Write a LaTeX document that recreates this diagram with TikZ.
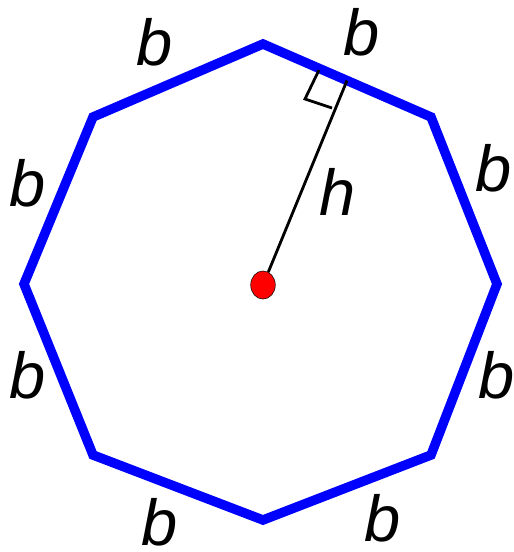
\documentclass[tikz,border=0pt]{standalone}
\usepackage{fontspec}
\setmainfont{Liberation Sans}
\usetikzlibrary{calc,shapes.geometric}
\definecolor{octblue}{HTML}{0000FF}
\definecolor{dotred}{HTML}{FF0000}

\begin{document}
\begin{tikzpicture}[x=0.02cm, y=-0.02cm,
  side/.style={draw=octblue, line width=5.4pt, line join=miter},
  lbl/.style={font=\fontsize{37}{44}\selectfont\itshape, inner sep=0pt},
  dot/.style={ellipse, draw=black, line width=0.3pt, fill=dotred,
              minimum width=14pt, minimum height=16pt, inner sep=0pt},
  thin/.style={draw=black, line width=1.6pt}
]
\useasboundingbox (0,0) rectangle (514,552);

% corners of the octagon
\coordinate (v1) at (263,44);
\coordinate (v2) at (431,117);
\coordinate (v3) at (497,284);
\coordinate (v4) at (431,455);
\coordinate (v5) at (263,520);
\coordinate (v6) at (93,455);
\coordinate (v7) at (24,284);
\coordinate (v8) at (93,117);

\draw[side] (v1) -- (v2) -- (v3) -- (v4) -- (v5) -- (v6) -- (v7) -- (v8) -- cycle;

% apothem
\coordinate (foot) at ($(v1)!0.5!(v2)$);
\node[dot] (ctr) at (263,285) {};
\draw[thin] (ctr) -- (foot);
\coordinate (ra1) at (319,70);
\coordinate (ra2) at (305,99);
\coordinate (ra3) at (332,108);
\draw[thin] (ra1) -- (ra2) -- (ra3);

% labels
\node[lbl] (b1) at (155,42) {b};
\node[lbl] (b2) at (362,32) {b};
\node[lbl] (b3) at (494,168) {b};
\node[lbl] (b4) at (497,375) {b};
\node[lbl] (b5) at (383,518) {b};
\node[lbl] (b6) at (160,522) {b};
\node[lbl] (b7) at (28,375) {b};
\node[lbl] (b8) at (28,183) {b};
\node[lbl] (hl) at (338,192) {h};

\end{tikzpicture}
\end{document}
